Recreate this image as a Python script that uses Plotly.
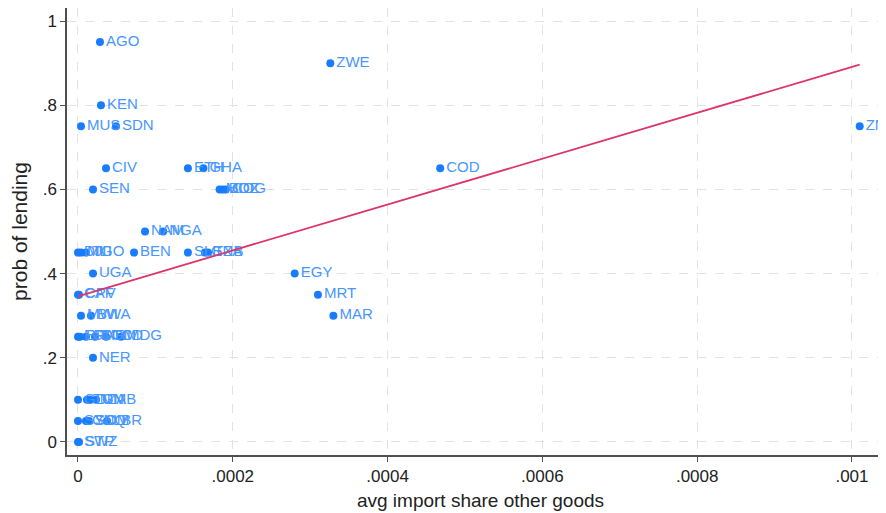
import plotly.graph_objects as go

# ---- data ----
countries = ["AGO", "ZWE", "KEN", "MUS", "SDN", "ZMB",
             "CIV", "ETH", "GHA", "COD",
             "SEN", "MOZ", "BDI", "COG",
             "NAM", "NGA",
             "DJI", "MLI", "TGO", "BEN", "SLE", "GNB", "TZA",
             "UGA", "EGY",
             "CAF", "CPV", "MRT",
             "MWI", "BWA", "MAR",
             "ERI", "BFA", "CMR", "COM", "TCD", "MDG",
             "NER",
             "GIN", "TUN", "DZA", "GMB",
             "SYC", "GNQ", "SOM", "LBR",
             "SWZ", "STP"]
import_share = [0.0000284, 0.000326, 0.0000297, 0.0000039, 0.0000491, 0.00101,
                0.0000362, 0.000142, 0.000162, 0.000468,
                0.0000194, 0.000183, 0.000187, 0.000191,
                0.0000866, 0.000110,
                0.0000000, 0.0000039, 0.0000103, 0.0000724, 0.000142, 0.000164, 0.000168,
                0.0000194, 0.000280,
                0.0000000, 0.0000013, 0.000310,
                0.0000039, 0.0000168, 0.000330,
                0.0000000, 0.0000026, 0.0000103, 0.0000220, 0.0000362, 0.0000555,
                0.0000194,
                0.0000000, 0.0000116, 0.0000155, 0.0000233,
                0.0000000, 0.0000103, 0.0000142, 0.0000375,
                0.0000000, 0.0000013]
prob_lending = [0.95, 0.90, 0.80, 0.75, 0.75, 0.75,
                0.65, 0.65, 0.65, 0.65,
                0.60, 0.60, 0.60, 0.60,
                0.50, 0.50,
                0.45, 0.45, 0.45, 0.45, 0.45, 0.45, 0.45,
                0.40, 0.40,
                0.35, 0.35, 0.35,
                0.30, 0.30, 0.30,
                0.25, 0.25, 0.25, 0.25, 0.25, 0.25,
                0.20,
                0.10, 0.10, 0.10, 0.10,
                0.05, 0.05, 0.05, 0.05,
                0.00, 0.00]

fit_intercept = 0.346
fit_slope = 545.0

x_tickvals = [0, 0.0002, 0.0004, 0.0006, 0.0008, 0.001]
x_ticktext = ["0", ".0002", ".0004", ".0006", ".0008", ".001"]
y_tickvals = [0, 0.2, 0.4, 0.6, 0.8, 1.0]
y_ticktext = ["0", ".2", ".4", ".6", ".8", "1"]

# ---- figure ----
fit_x = [min(import_share), max(import_share)]
fit_y = [fit_intercept + fit_slope * v for v in fit_x]

font_family = "Liberation Sans, Arial, sans-serif"

fig = go.Figure()
fig.add_trace(go.Scatter(
    x=import_share, y=prob_lending, mode="markers+text",
    text=countries, textposition="middle right",
    marker=dict(color="rgb(24,124,255)", size=8),
    textfont=dict(color="rgb(70,150,255)", size=15, family=font_family),
    cliponaxis=True, showlegend=False,
))
fig.add_trace(go.Scatter(
    x=fit_x, y=fit_y, mode="lines",
    line=dict(color="rgb(222,52,104)", width=1.8),
    showlegend=False,
))

axis_common = dict(
    showline=True, linecolor="#505050", linewidth=1.5,
    ticks="outside", ticklen=5, tickcolor="#505050", tickwidth=1.2,
    showgrid=True, gridcolor="#e2e2e2", griddash="dash", gridwidth=1,
    zeroline=False, automargin=False,
    tickfont=dict(size=17, color="#222222", family=font_family),
)

# the page body adds an 8px offset, so the margins compensate for it
fig.update_layout(
    width=886, height=513,
    margin=dict(l=59, r=0, t=0, b=66),
    paper_bgcolor="white", plot_bgcolor="white",
    xaxis=dict(range=[-0.0000142, 0.0010543],
               tickvals=x_tickvals, ticktext=x_ticktext,
               title=dict(text="avg import share other goods",
                          font=dict(size=19, color="#222222", family=font_family),
                          standoff=9),
               **axis_common),
    yaxis=dict(range=[-0.031, 1.031],
               tickvals=y_tickvals, ticktext=y_ticktext,
               title=dict(text="prob of lending",
                          font=dict(size=21, color="#222222", family=font_family),
                          standoff=18),
               **axis_common),
)

fig.write_html("out.html")
